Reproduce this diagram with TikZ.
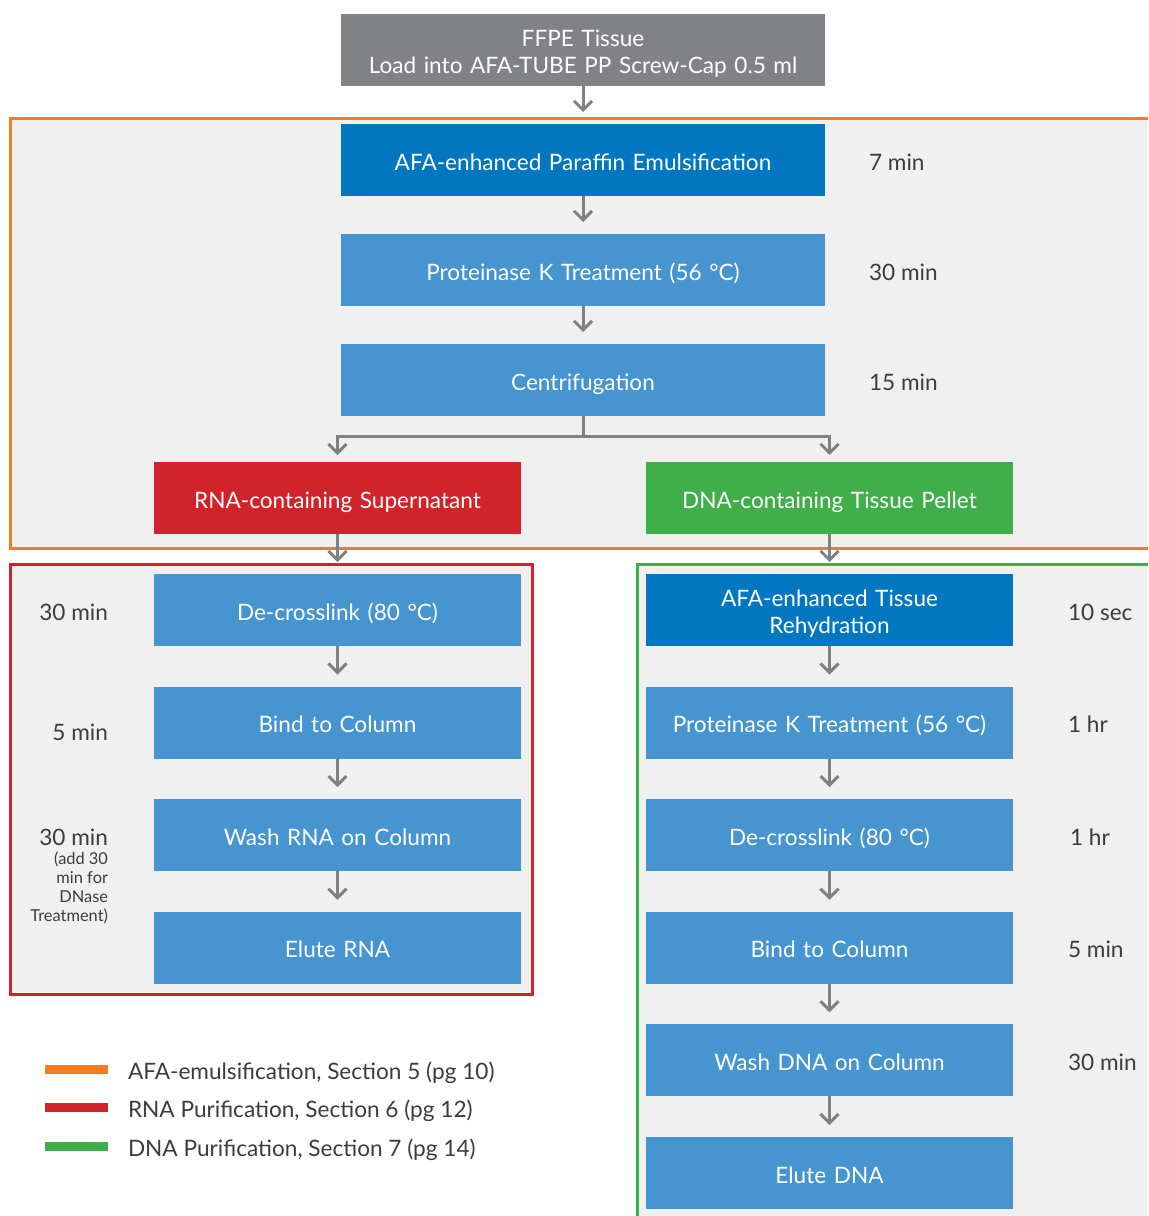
\documentclass[tikz,border=0pt]{standalone}
\usepackage{fontspec}
\setmainfont{Lato}
\usetikzlibrary{positioning,arrows.meta}
\definecolor{ffpegray}{HTML}{808285}
\definecolor{afablue}{HTML}{0077C0}
\definecolor{stepblue}{HTML}{4694D0}
\definecolor{rnared}{HTML}{D2232A}
\definecolor{dnagreen}{HTML}{40AE49}
\definecolor{afaorange}{HTML}{F47B20}
\definecolor{panel}{HTML}{F0F0F0}
\definecolor{arrowgray}{HTML}{808080}
\definecolor{textgray}{HTML}{3C3C3C}
\tikzset{block/.style={fill=stepblue,text=white,text width=232pt,minimum width=242pt,minimum height=36pt,align=center,inner sep=0pt,outer sep=0pt,text height=10.5pt,text depth=0.5pt,font=\fontsize{11.3}{13.4}\selectfont},
         sideblock/.style={block,text width=176pt,minimum width=183.5pt},
         twoline/.style={text depth=14.2pt},
         time/.style={text=textgray,inner sep=0pt,outer sep=0pt,text height=10.5pt,text depth=0.5pt,font=\fontsize{11.3}{13.4}\selectfont},
         note/.style={text=textgray,inner sep=0pt,outer sep=0pt,align=right,font=\fontsize{8.2}{9.5}\selectfont},
         line/.style={draw=arrowgray,line width=1.5pt},
         frame/.style={line width=1.5pt},
         legline/.style={line width=4.5pt}
}
\tikzstyle{arrow} = [line,-{Straight Barb[length=4.5pt,width=9pt]},shorten >=6pt]

\begin{document}
\begin{tikzpicture}[x=0.5pt,y=-0.5pt]
\useasboundingbox (0,0) rectangle (1148,1216);
\clip (0,0) rectangle (1148,1216);

% section frames
\fill[panel] (10,118) rectangle (1170,548);
\draw[frame,afaorange] (1170,118) -- (10,118) -- (10,548) -- (1170,548);
\draw[frame,rnared,fill=panel] (10,564) rectangle (532,994);
\fill[panel] (637,564) rectangle (1170,1230);
\draw[frame,dnagreen] (1170,564) -- (637,564) -- (637,1230);

% main column
\node[block,twoline,fill=ffpegray] (ffpe) at (583,50) {FFPE Tissue\\Load into AFA-TUBE PP Screw-Cap 0.5 ml};
\node[block,fill=afablue,below=19pt of ffpe] (emul) {AFA-enhanced Paraffin Emulsification};
\node[block,below=19pt of emul] (prot) {Proteinase K Treatment (56 °C)};
\node[block,below=19pt of prot] (centr) {Centrifugation};
\coordinate[below=10pt of centr] (split);
\node[sideblock,fill=rnared,below=23pt of centr,xshift=-122.75pt] (rnasup) {RNA-containing Supernatant};
\node[sideblock,fill=dnagreen,right=62.5pt of rnasup] (dnasup) {DNA-containing Tissue Pellet};

\node[time,right=22pt of emul] (emultime) {7 min};
\node[time,right=22pt of prot] (prottime) {30 min};
\node[time,right=22pt of centr] (centrtime) {15 min};

% RNA column
\node[sideblock,below=20pt of rnasup] (decross) {De-crosslink (80 °C)};
\node[sideblock,below=20.3pt of decross] (bindrna) {Bind to Column};
\node[sideblock,below=20.3pt of bindrna] (washrna) {Wash RNA on Column};
\node[sideblock,below=20.3pt of washrna] (elutrna) {Elute RNA};

\node[time,left=23pt of decross] (decrosstime) {30 min};
\node[time,left=23pt of bindrna,yshift=-4pt] (bindrnatime) {5 min};
\node[time,left=23pt of washrna] (washrnatime) {30 min};
\node[note,anchor=north east,yshift=-3pt] (dnasenote) at (washrnatime.south east) {(add 30\\min for\\DNase\\Treatment)};

% DNA column
\node[sideblock,twoline,fill=afablue,below=20pt of dnasup] (rehyd) {AFA-enhanced Tissue\\Rehydration};
\node[sideblock,below=20.3pt of rehyd] (protdna) {Proteinase K Treatment (56 °C)};
\node[sideblock,below=20.3pt of protdna] (decrossdna) {De-crosslink (80 °C)};
\node[sideblock,below=20.3pt of decrossdna] (binddna) {Bind to Column};
\node[sideblock,below=20.3pt of binddna] (washdna) {Wash DNA on Column};
\node[sideblock,below=20.3pt of washdna] (elutdna) {Elute DNA};

\node[time,right=27.5pt of rehyd] (rehydtime) {10 sec};
\node[time,right=27.5pt of protdna] (protdnatime) {1 hr};
\node[time,right=28.5pt of decrossdna] (decrossdnatime) {1 hr};
\node[time,right=27.5pt of binddna] (binddnatime) {5 min};
\node[time,right=27.5pt of washdna] (washdnatime) {30 min};

% legend
\coordinate (legafa) at (45,1069);
\coordinate (legrna) at (45,1107);
\coordinate (legdna) at (45,1146);
\draw[legline,afaorange] (legafa) -- ++(31.5pt,0) node[time,right=10pt] {AFA-emulsification, Section 5 (pg 10)};
\draw[legline,rnared] (legrna) -- ++(31.5pt,0) node[time,right=10pt] {RNA Purification, Section 6 (pg 12)};
\draw[legline,dnagreen] (legdna) -- ++(31.5pt,0) node[time,right=10pt] {DNA Purification, Section 7 (pg 14)};

% connectors
\draw[arrow] (ffpe)--(emul);
\draw[arrow] (emul)--(prot);
\draw[arrow] (prot)--(centr);
\draw[line] (centr)--(split);
\draw[arrow,shorten >=3.5pt] (split)-|(rnasup);
\draw[arrow,shorten >=3.5pt] (split)-|(dnasup);
\draw[arrow] (rnasup)--(decross);
\draw[arrow] (decross)--(bindrna);
\draw[arrow] (bindrna)--(washrna);
\draw[arrow] (washrna)--(elutrna);
\draw[arrow] (dnasup)--(rehyd);
\draw[arrow] (rehyd)--(protdna);
\draw[arrow] (protdna)--(decrossdna);
\draw[arrow] (decrossdna)--(binddna);
\draw[arrow] (binddna)--(washdna);
\draw[arrow] (washdna)--(elutdna);

\end{tikzpicture}
\end{document}
